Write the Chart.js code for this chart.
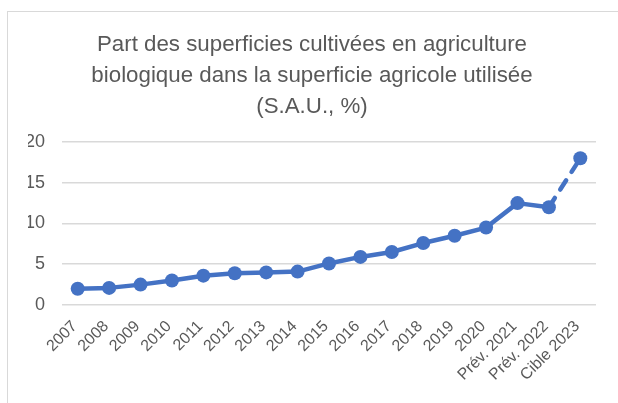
<!DOCTYPE html>
<html><head><meta charset="utf-8">
<script src="https://cdn.jsdelivr.net/npm/chart.js@4"></script>
<style>
html,body{margin:0;padding:0;background:#fff;}
#wrap{position:relative;width:618px;height:403px;overflow:hidden;}
#frame{position:absolute;left:7px;top:11px;width:700px;height:500px;border-left:1.5px solid #d9d9d9;border-top:1.5px solid #d9d9d9;}
canvas{position:absolute;left:0;top:0;}
</style></head>
<body><div id="wrap"><div id="frame"></div><canvas id="c" width="618" height="403"></canvas></div>
<script>
const categories = ["2007","2008","2009","2010","2011","2012","2013","2014","2015","2016","2017","2018","2019","2020","Prév. 2021","Prév. 2022","Cible 2023"];
const values = [2.0,2.1,2.5,3.0,3.6,3.9,4.0,4.1,5.1,5.9,6.5,7.6,8.5,9.5,12.5,12.0,18.0];
const yTicks = [0,5,10,15,20];
const titleLines = ["Part des superficies cultivées en agriculture","biologique dans la superficie agricole utilisée","(S.A.U., %)"];
const blue = '#4472C4';
const grey = '#595959';
Chart.defaults.font.family = '"Liberation Sans", Arial, sans-serif';
new Chart(document.getElementById('c'), {
  type: 'line',
  data: { labels: categories, datasets: [{
    data: values, borderColor: blue, backgroundColor: blue, borderWidth: 4.5,
    pointRadius: 7, pointHoverRadius: 7, pointBackgroundColor: blue, pointBorderWidth: 0,
    tension: 0, fill: false, borderJoinStyle: 'round',
    segment: {
      borderDash: ctx => ctx.p1DataIndex === values.length - 1 ? [11, 10] : undefined,
      borderCapStyle: ctx => ctx.p1DataIndex === values.length - 1 ? 'round' : undefined
    }
  }]},
  options: {
    responsive: false, animation: false, devicePixelRatio: 1,
    layout: { padding: { left: 28, right: 22, top: 0, bottom: 0 } },
    plugins: {
      legend: { display: false }, tooltip: { enabled: false },
      title: { display: true, text: titleLines, color: grey,
        font: { size: 22.3, weight: 'normal', lineHeight: 1.39 },
        padding: { top: 29, bottom: 20 } }
    },
    scales: {
      x: { offset: true, grid: { display: false }, border: { display: false },
        ticks: { color: grey, font: { size: 16 }, maxRotation: 45, minRotation: 45, autoSkip: false, padding: 4, labelOffset: -3 },
        afterFit: s => { s.height = 98; } },
      y: { min: 0, max: 20, border: { display: false },
        grid: { color: '#d9d9d9', lineWidth: 1.5, drawTicks: false },
        afterBuildTicks: s => { s.ticks = yTicks.map(v => ({ value: v })); },
        ticks: { color: grey, font: { size: 18 }, padding: 17 },
        afterFit: s => { s.width = 34; } }
    }
  }
});
</script></body></html>
